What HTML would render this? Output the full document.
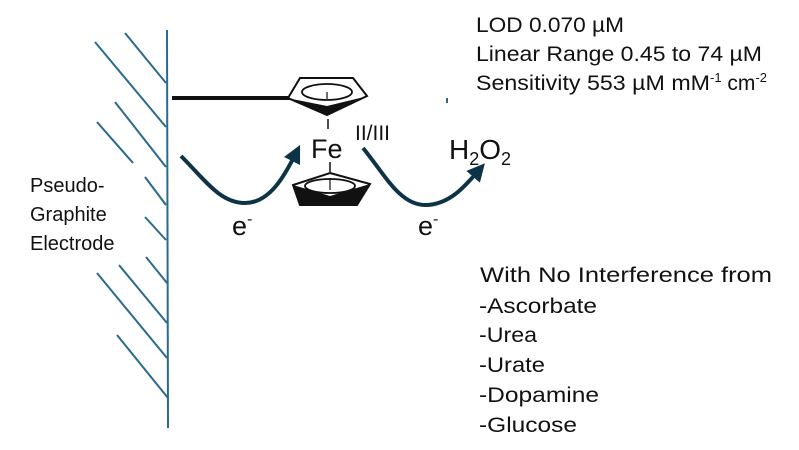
<!DOCTYPE html>
<html><head><meta charset="utf-8"><style>
html,body{margin:0;padding:0;background:#fff;width:799px;height:450px;overflow:hidden}
text{font-family:"Liberation Sans",sans-serif;fill:#111}
</style></head><body>
<svg width="799" height="450" viewBox="0 0 799 450" xmlns="http://www.w3.org/2000/svg">
<defs>
<marker id="ah" viewBox="0 0 10 10" refX="5" refY="5" markerWidth="4.5" markerHeight="4.5" orient="auto"><path d="M0,0 L10,5 L0,10 z" fill="#0d3347"/></marker>
</defs>
<g stroke="#2a6a8c" stroke-width="2" fill="none">
<line x1="167" y1="30" x2="168" y2="428"/>
<line x1="95" y1="42" x2="166" y2="127"/>
<line x1="125" y1="33" x2="166" y2="83"/>
<line x1="115" y1="102" x2="166" y2="167"/>
<line x1="97" y1="122" x2="133" y2="163"/>
<line x1="145" y1="177" x2="166" y2="205"/>
<line x1="145" y1="217" x2="166" y2="240"/>
<line x1="146" y1="257" x2="167" y2="283"/>
<line x1="119" y1="265" x2="167" y2="323"/>
<line x1="97" y1="273" x2="167" y2="358"/>
<line x1="117" y1="335" x2="168" y2="398"/>
<line x1="447" y1="98" x2="447" y2="103"/>
</g>
<line x1="172" y1="98" x2="290" y2="98" stroke="#111" stroke-width="4"/>
<path d="M300,78 L353,78 L367,96 L327,115 L288,98 Z" fill="#fff" stroke="#111" stroke-width="2"/>
<path d="M292,99 L327,115 L364,97 L327,106 Z" fill="#111"/>
<ellipse cx="327" cy="92" rx="25" ry="8" fill="none" stroke="#111" stroke-width="1.8"/>
<line x1="327" y1="92" x2="327" y2="99" stroke="#111" stroke-width="1.2"/>
<line x1="328" y1="119" x2="328" y2="129" stroke="#111" stroke-width="1.5"/>
<path d="M330,173 L370,184 L357,205 L300,205 L293,185 Z" fill="#fff" stroke="#111" stroke-width="2"/>
<path d="M293,185 L300,205 L357,205 L370,184 L330,196 Z" fill="#111"/>
<ellipse cx="330" cy="186" rx="25" ry="7" fill="#fff" stroke="#111" stroke-width="1.8"/>
<line x1="330" y1="178" x2="330" y2="190" stroke="#111" stroke-width="1.2"/>
<line x1="330" y1="162" x2="330" y2="172" stroke="#111" stroke-width="1.5"/>
<text x="311" y="158" font-size="27">Fe</text>
<text x="355" y="140" font-size="21">II/III</text>
<path d="M181,156 C205,180 220,203 245,203 C270,203 285,175 296,153" fill="none" stroke="#0d3347" stroke-width="4" marker-end="url(#ah)"/>
<path d="M363,148 C385,175 400,205 425,205 C450,205 466,185 479,170" fill="none" stroke="#0d3347" stroke-width="4" marker-end="url(#ah)"/>
<text x="232" y="235" font-size="27">e<tspan font-size="16" dy="-11">-</tspan></text>
<text x="418" y="235" font-size="27">e<tspan font-size="16" dy="-11">-</tspan></text>
<text x="449" y="159" font-size="28">H<tspan font-size="18" dy="6">2</tspan><tspan dy="-6">O</tspan><tspan font-size="18" dy="6">2</tspan></text>
<g font-size="20">
<text x="30" y="192">Pseudo-</text>
<text x="30" y="221">Graphite</text>
<text x="30" y="250">Electrode</text>
</g>
<g font-size="21">
<text x="476" y="32" textLength="148" lengthAdjust="spacingAndGlyphs">LOD 0.070 µM</text>
<text x="476" y="61" textLength="286" lengthAdjust="spacingAndGlyphs">Linear Range 0.45 to 74 µM</text>
<text x="476" y="90"><tspan textLength="234" lengthAdjust="spacingAndGlyphs">Sensitivity 553 µM mM</tspan><tspan font-size="13" dy="-8">-1</tspan><tspan dy="8"> cm</tspan><tspan font-size="13" dy="-8">-2</tspan></text>
<text x="480" y="282" textLength="292" lengthAdjust="spacingAndGlyphs">With No Interference from</text>
<text x="479" y="313" textLength="118" lengthAdjust="spacingAndGlyphs">-Ascorbate</text>
<text x="479" y="342" textLength="58" lengthAdjust="spacingAndGlyphs">-Urea</text>
<text x="479" y="372" textLength="66" lengthAdjust="spacingAndGlyphs">-Urate</text>
<text x="479" y="402" textLength="120" lengthAdjust="spacingAndGlyphs">-Dopamine</text>
<text x="479" y="432" textLength="98" lengthAdjust="spacingAndGlyphs">-Glucose</text>
</g>
</svg>
</body></html>
